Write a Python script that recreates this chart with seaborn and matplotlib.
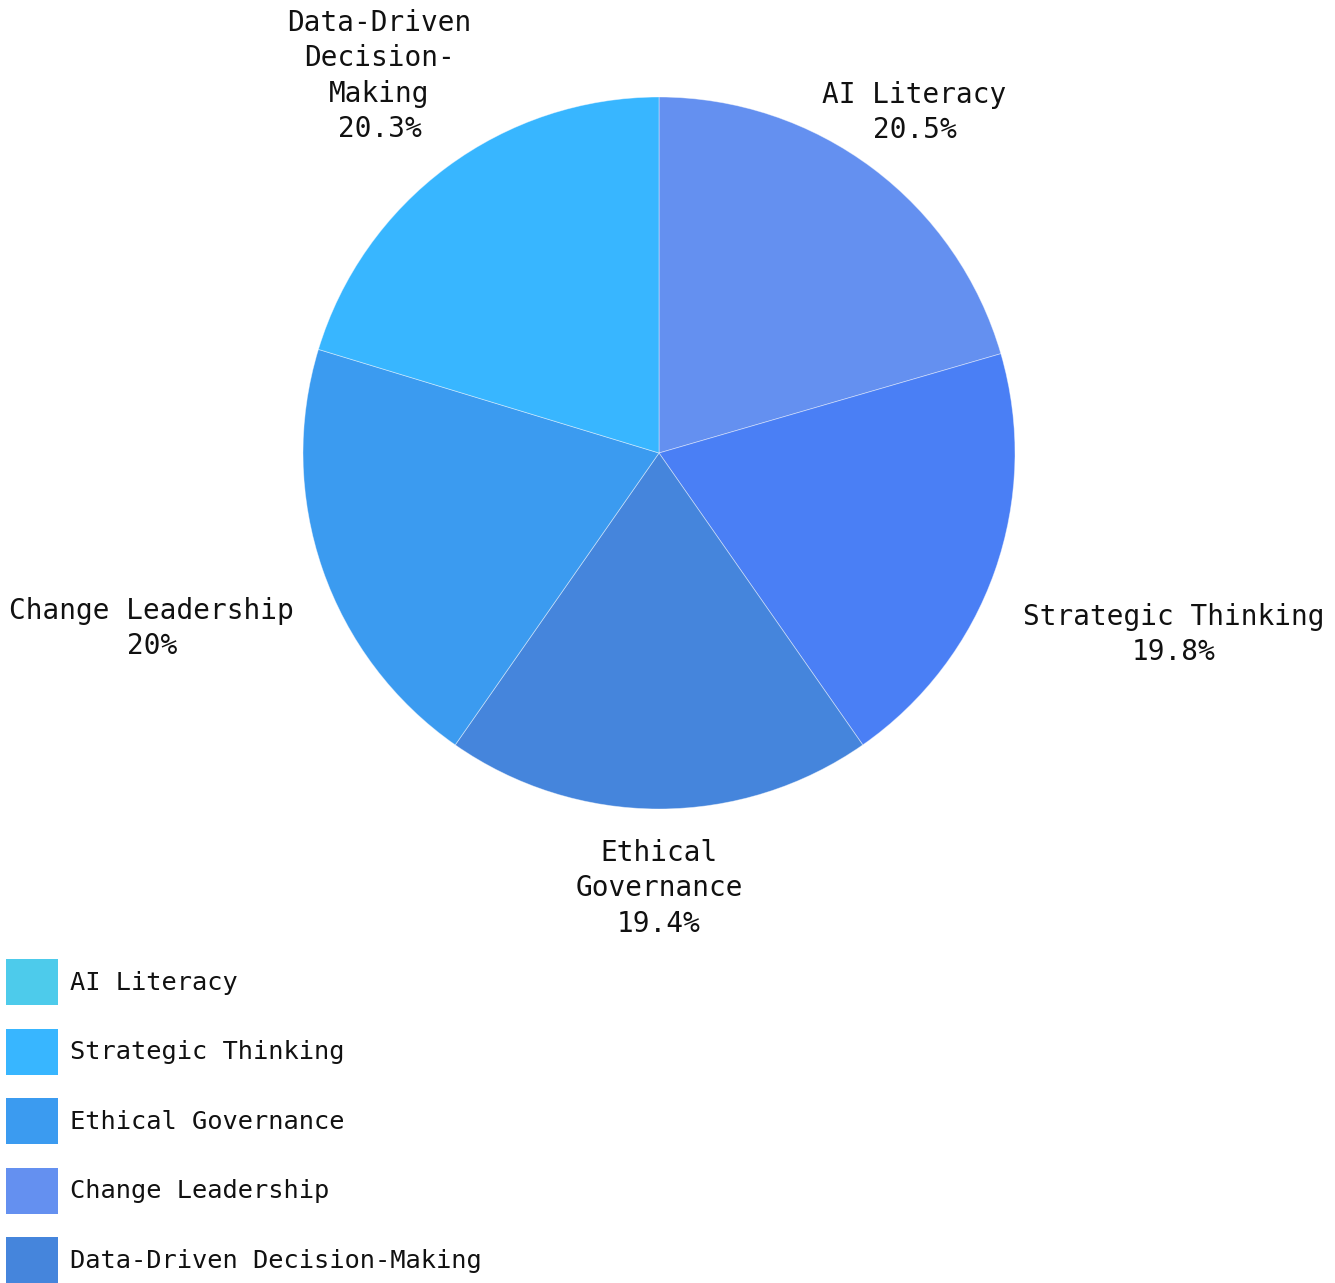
import textwrap
import numpy as np
import matplotlib
matplotlib.use("Agg")
import matplotlib.pyplot as plt
from matplotlib.patches import Patch
import seaborn as sns

# Competency shares (percent)
categories = ["AI Literacy", "Strategic Thinking", "Ethical Governance",
              "Change Leadership", "Data-Driven Decision-Making"]
shares = [20.5, 19.8, 19.4, 20.0, 20.3]

slice_colors = ["#6490F0", "#4A7FF5", "#4585DC", "#3B9BF0", "#38B6FF"]
legend_colors = ["#4DCBEB", "#38B6FF", "#3B9BF0", "#6490F0", "#4585DC"]

sns.set_theme(style="white")
plt.rcParams["font.family"] = ["DejaVu Sans Mono", "DejaVu Sans"]
TEXT = "#111111"

W, H, DPI = 1335, 1283, 100
fig = plt.figure(figsize=(W / DPI, H / DPI), dpi=DPI)
ax = fig.add_axes([0, 0, 1, 1])

cx, cy, radius = 659, H - 453, 356
wedges, _ = ax.pie(shares, colors=slice_colors, startangle=90, counterclock=False,
                   center=(cx, cy), radius=radius,
                   wedgeprops=dict(edgecolor=(1, 1, 1, 0.45), linewidth=0.6))
ax.set_xlim(0, W)
ax.set_ylim(0, H)
ax.set_aspect("equal")
ax.axis("off")

# Outside labels: the text box sits a fixed gap beyond the rim along the mid-angle ray
fig.canvas.draw()
renderer = fig.canvas.get_renderer()
gap_r = 386
for w, name, v in zip(wedges, categories, shares):
    mid = np.deg2rad((w.theta1 + w.theta2) / 2)
    c, s = np.cos(mid), np.sin(mid)
    side = abs(c) > 0.8
    label = name if side else textwrap.fill(name, 11)
    t = ax.text(cx, cy, f"{label}\n{v:g}%", ha="center", va="center",
                fontsize=20, color=TEXT, linespacing=1.33)
    bb = t.get_window_extent(renderer)
    hw, hh = bb.width / 2, bb.height / 2
    ext = hw / abs(c) if side else hh / abs(s)
    d = gap_r + ext
    t.set_position((cx + d * c, cy + d * s))

handles = [Patch(facecolor=col, edgecolor="none") for col in legend_colors]
fs = 18.3
fpx = fs * DPI / 72
box_h_pt = 46 * 72 / DPI
handleheight = (box_h_pt / fs - 0.245) / 0.65
fig.legend(handles, categories, loc="lower left", bbox_to_anchor=(6 / W, 0),
           frameon=False, fontsize=fs, labelcolor=TEXT, borderpad=0, borderaxespad=0,
           handlelength=52 / fpx, handleheight=handleheight,
           handletextpad=12 / fpx, labelspacing=23.5 / fpx)

fig.savefig("out.png", dpi=DPI)
